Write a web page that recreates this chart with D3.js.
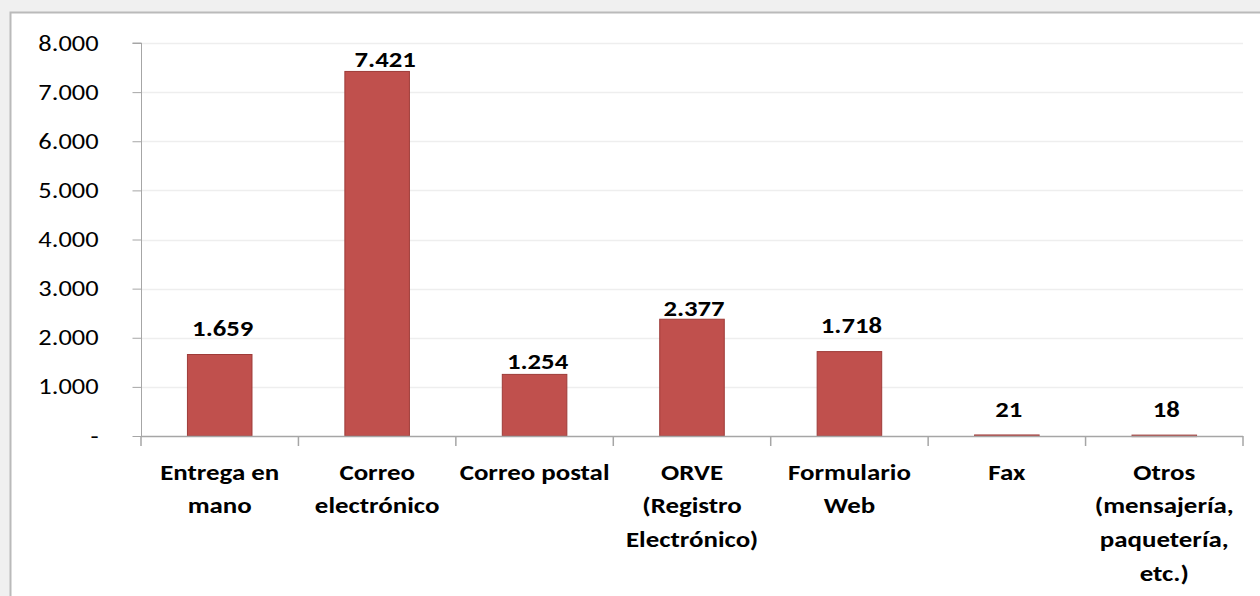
<!DOCTYPE html>
<html><head><meta charset="utf-8">
<script src="https://cdn.jsdelivr.net/npm/d3@7"></script>
<style>
html,body{margin:0;padding:0;background:#f0f0f0;}
svg{display:block;}
text{font-family:Calibri,Carlito,Lato,sans-serif;fill:#000;}
</style></head><body>
<svg id="c" width="1260" height="596"></svg>
<script>
const categories = [
  ["Entrega en","mano"],
  ["Correo","electrónico"],
  ["Correo postal"],
  ["ORVE","(Registro","Electrónico)"],
  ["Formulario","Web"],
  ["Fax"],
  ["Otros","(mensajería,","paquetería,","etc.)"]
];
const values = [1659, 7421, 1254, 2377, 1718, 21, 18];
const yTicks = [0,1000,2000,3000,4000,5000,6000,7000,8000];
// manual data-label placement (as in the original chart)
const labelRise = [19, 4, 5, 3, 19, 18, 18];
const labelShift = [3, 8, 3, 2, 2, 2, 2];

const svg = d3.select("#c");
svg.append("rect").attr("x",10.5).attr("y",12.5).attr("width",1300).attr("height",700)
  .attr("fill","#fff").attr("stroke","#bababa").attr("stroke-width",2);

const x0=141, x1=1243, yTop=43, yBot=436;
const keys = categories.map((d,i)=>i);
const x = d3.scaleBand().domain(keys).range([x0,x1]).paddingInner(0.59).paddingOuter(0.295);
const xc = d3.scaleBand().domain(keys).range([x0,x1]);
const y = d3.scaleLinear().domain([0,8000]).range([yBot,yTop]);

const fmt = v => v===0 ? "-" : d3.format(",")(v).replace(/,/g,".");

// gridlines
svg.append("g").selectAll("line").data(yTicks.filter(d=>d>0)).join("line")
  .attr("x1",x0).attr("x2",x1).attr("y1",d=>Math.round(y(d))+0.5).attr("y2",d=>Math.round(y(d))+0.5)
  .attr("stroke","#eeeeee").attr("stroke-width",1.5);

// y axis
const sy = 1.2;
const ya = svg.append("g").attr("transform",`translate(${x0+0.5},0)`)
  .call(d3.axisLeft(y).tickValues(yTicks).tickFormat(fmt).tickSize(9));
ya.select(".domain").attr("stroke","#a6a6a6").attr("d",`M-9,${y(8000)}H0V${yBot}`);
ya.selectAll(".tick line").attr("stroke","#a6a6a6");
ya.selectAll(".tick text").attr("font-size",22).attr("fill","#000")
  .attr("font-family","Calibri,Carlito,Lato,sans-serif")
  .attr("x",-43/sy).attr("transform",`scale(${sy},1)`);

// bars
svg.append("g").selectAll("rect").data(values).join("rect")
  .attr("x",(d,i)=>x(i)).attr("width",x.bandwidth())
  .attr("y",d=>y(d)).attr("height",d=>Math.max(1.5,yBot-y(d)))
  .attr("fill","#c0504d").attr("stroke","#9e3b38").attr("stroke-width",1);

// x axis
svg.append("line").attr("x1",x0).attr("x2",x1).attr("y1",yBot+0.5).attr("y2",yBot+0.5).attr("stroke","#a6a6a6").attr("stroke-width",1.5);
svg.append("g").selectAll("line").data(d3.range(categories.length+1)).join("line")
  .attr("x1",i=>x0+i*xc.step()).attr("x2",i=>x0+i*xc.step())
  .attr("y1",yBot).attr("y2",yBot+10).attr("stroke","#a6a6a6").attr("stroke-width",1.5);

// value labels
svg.append("g").selectAll("text").data(values).join("text")
  .attr("transform",(d,i)=>`translate(${x(i)+x.bandwidth()/2+labelShift[i]},${y(d)-labelRise[i]}) scale(1.16,1)`)
  .attr("text-anchor","middle").attr("font-weight","bold").attr("font-size",23)
  .text(fmt);

// category labels
const cl = svg.append("g").selectAll("text").data(categories).join("text")
  .attr("transform",(d,i)=>`translate(${xc(i)+xc.bandwidth()/2},479.5) scale(1.17,1)`)
  .attr("text-anchor","middle").attr("font-weight","bold").attr("font-size",23);
cl.selectAll("tspan").data(d=>d).join("tspan")
  .attr("x",0).attr("dy",(d,i)=>i===0?0:33.7).text(d=>d);
</script></body></html>
